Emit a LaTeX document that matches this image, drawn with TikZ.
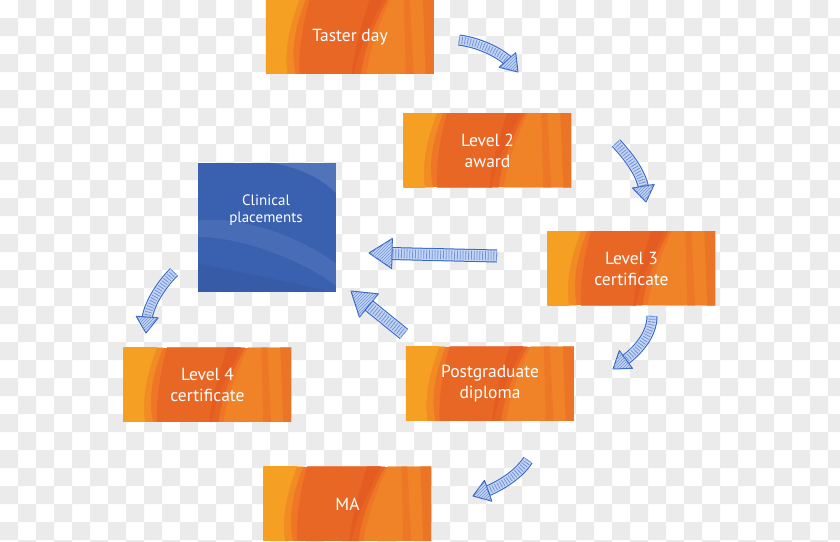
\documentclass[tikz,border=0pt]{standalone}
\usepackage{fontspec}
\setmainfont{PT Sans}
\usetikzlibrary{decorations.markings,patterns}
\pgfdeclarelayer{bottom}
\pgfdeclarelayer{background}
\pgfsetlayers{bottom,background,main}
\definecolor{checker}{RGB}{235,235,235}
\definecolor{orBase}{RGB}{238,118,38}
\definecolor{orYellow}{RGB}{245,160,34}
\definecolor{orRed}{RGB}{232,98,36}
\definecolor{orDark}{RGB}{224,80,30}
\definecolor{orLight}{RGB}{242,140,42}
\definecolor{blBase}{RGB}{58,96,176}
\definecolor{arEdge}{RGB}{52,100,200}
\definecolor{arFill}{RGB}{196,212,242}
\definecolor{arHatch}{RGB}{110,148,218}
\newcommand\orangetexture[1]{%
  \begin{scope}[shift={(#1.north west)}]
    \clip (0,0) rectangle (168,74);
    \fill[orBase] (0,0) rectangle (168,74);
    \fill[orYellow] (-1,-1) -- (34,-1) .. controls (24,25) and (18,50) .. (22,76) -- (-1,76) -- cycle;
    \fill[orYellow,opacity=.5] (34,-1) -- (40,-1) .. controls (30,25) and (24,50) .. (30,76) -- (22,76) .. controls (18,50) and (24,25) .. (34,-1) -- cycle;
    \fill[orRed,opacity=.75] (44,-1) -- (118,-1) .. controls (105,25) and (92,50) .. (88,76) -- (34,76) .. controls (32,50) and (38,20) .. (44,-1) -- cycle;
    \fill[orDark,opacity=.45] (104,-1) -- (122,-1) .. controls (108,25) and (98,50) .. (95,76) -- (86,76) .. controls (88,50) and (96,25) .. (104,-1) -- cycle;
    \fill[orLight,opacity=.6] (125,-1) -- (170,-1) -- (170,76) -- (100,76) .. controls (105,45) and (115,20) .. (125,-1) -- cycle;
    \fill[orRed,opacity=.35] (138,-1) -- (144,-1) -- (148,76) -- (140,76) -- cycle;
    \fill[orRed,opacity=.45] (157,-1) -- (170,-1) -- (170,76) -- (160,76) -- cycle;
  \end{scope}}
\newcommand\bluetexture[1]{%
  \begin{scope}[shift={(#1.north west)}]
    \clip (0,0) rectangle (138,129);
    \fill[blBase] (0,0) rectangle (138,129);
    \fill[white,opacity=.12] (70,-1) .. controls (100,5) and (120,12) .. (140,32) -- (140,-1) -- cycle;
    \fill[white,opacity=.08] (-1,58) .. controls (40,52) and (100,72) .. (140,102) -- (140,124) .. controls (100,94) and (40,74) .. (-1,74) -- cycle;
    \fill[black,opacity=.05] (-1,100) .. controls (40,110) and (90,118) .. (140,131) -- (-1,131) -- cycle;
  \end{scope}}
\tikzset{
  obox/.style={minimum width=168pt, minimum height=74pt, inner sep=0pt,
    text=white, align=center, font=\fontsize{17.5}{21}\selectfont},
  bbox/.style={minimum width=138pt, minimum height=129pt, inner sep=0pt},
  ctext/.style={text=white, align=center, inner sep=0pt, font=\fontsize{15}{17}\selectfont},
  fatarrow/.style n args={3}{line width=#1, draw=arFill, shorten >=#3-3pt,
    preaction={draw=arEdge, line width=#1+2pt, shorten >=#3-3pt},
    postaction={draw=arHatch, line width=#1-2pt, shorten >=#3-3pt, dash pattern=on 0.8pt off 2pt},
    postaction={decorate, decoration={markings, mark=at position 1 with {
      \filldraw[fill=arFill, draw=arEdge, line width=1pt, line join=round] (-#3,-#2) -- (0pt,0pt) -- (-#3,#2) -- cycle;
      \fill[pattern=north east lines, pattern color=arHatch] (-#3,-#2) -- (0pt,0pt) -- (-#3,#2) -- cycle;}}}},
  bigarrow/.style={fatarrow={11pt}{15pt}{23pt}},
  curvarrow/.style={fatarrow={9pt}{11pt}{16pt}}
}
\begin{document}
\begin{tikzpicture}[x=1pt,y=-1pt]
\useasboundingbox (0,0) rectangle (840,541);
\begin{pgfonlayer}{bottom}
\fill[white] (0,0) rectangle (840,541);
\fill[checker] \foreach \j in {0,2,...,30}{\foreach \i in {1,3,...,47}{(18*\i,18*\j) rectangle ++(18,18)}};
\fill[checker] \foreach \j in {1,3,...,29}{\foreach \i in {0,2,...,46}{(18*\i,18*\j) rectangle ++(18,18)}};
\end{pgfonlayer}

\node[obox] (taster) at (350,37) {Taster day};
\node[obox] (lvl2) at (487.5,150.5) {Level 2\\award};
\node[obox] (lvl3) at (631.5,268.5) {Level 3\\certificate};
\node[obox] (pgd) at (490,384) {Postgraduate\\diploma};
\node[obox] (lvl4) at (207.5,385) {Level 4\\certificate};
\node[obox] (ma) at (347.5,504) {MA};
\node[bbox] (clin) at (267,227.5) {};
\node[ctext] (clintxt) at (266,210) {Clinical\\placements};

\begin{pgfonlayer}{background}
\orangetexture{taster}
\orangetexture{lvl2}
\orangetexture{lvl3}
\orangetexture{pgd}
\orangetexture{lvl4}
\orangetexture{ma}
\bluetexture{clin}
\end{pgfonlayer}

\coordinate (a1s) at (459,40);  \coordinate (a1e) at (518,72);
\coordinate (a2s) at (616,143); \coordinate (a2e) at (646,202);
\coordinate (a3s) at (652,316); \coordinate (a3e) at (613,369);
\coordinate (a4s) at (528,460); \coordinate (a4e) at (473,496);
\coordinate (a5s) at (174,272); \coordinate (a5e) at (146,333);
\coordinate (a6s) at (404,334); \coordinate (a6e) at (351,291);
\coordinate (a7s) at (497,256); \coordinate (a7e) at (369,253);

\draw[curvarrow] (a1s) .. controls (482,43) and (503,55) .. (a1e);
\draw[curvarrow] (a2s) .. controls (627,155) and (641,172) .. (a2e);
\draw[curvarrow] (a3s) .. controls (652,336) and (636,352) .. (a3e);
\draw[curvarrow] (a4s) .. controls (518,476) and (496,488) .. (a4e);
\draw[curvarrow] (a5s) .. controls (160,286) and (148,306) .. (a5e);
\draw[bigarrow] (a6s) -- (a6e);
\draw[bigarrow] (a7s) -- (a7e);
\end{tikzpicture}
\end{document}
